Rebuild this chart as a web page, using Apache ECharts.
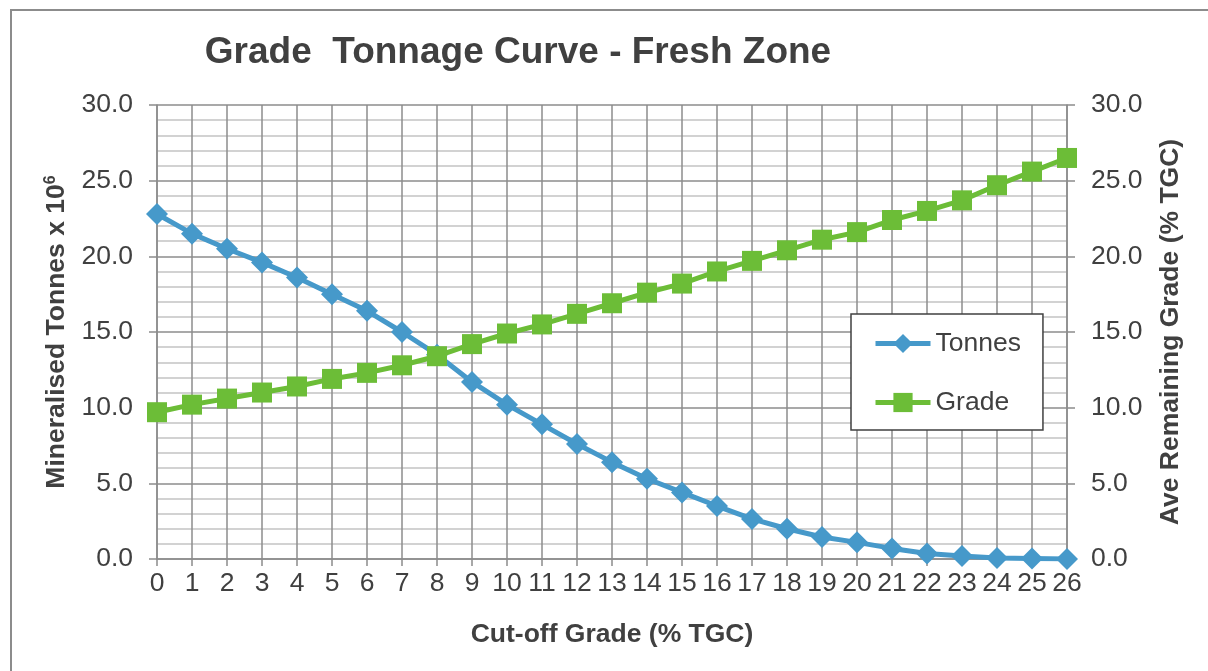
<!DOCTYPE html>
<html>
<head>
<meta charset="utf-8">
<title>Grade Tonnage Curve - Fresh Zone</title>
<script src="https://cdn.jsdelivr.net/npm/echarts@6/dist/echarts.min.js"></script>
<style>
  html, body { margin: 0; padding: 0; background: #fff; }
  #frame {
    position: absolute; left: 10px; top: 9px; width: 1300px; height: 800px;
    border-left: 2px solid #8c8c8c; border-top: 2px solid #8c8c8c;
  }
  #chart { position: absolute; left: 0; top: 0; width: 1208px; height: 671px; }
</style>
</head>
<body>
<div id="frame"></div>
<div id="chart"></div>
<script>
// cut-off grade (% TGC)
const cutoffs = ['0', '1', '2', '3', '4', '5', '6', '7', '8', '9', '10', '11', '12', '13',
  '14', '15', '16', '17', '18', '19', '20', '21', '22', '23', '24', '25', '26']

// mineralised tonnes x 10^6
const tonnes = [22.8, 21.5, 20.5, 19.6, 18.6, 17.5, 16.4, 15.0, 13.5, 11.7, 10.2, 8.9, 7.6,
  6.4, 5.3, 4.4, 3.5, 2.65, 2.0, 1.45, 1.1, 0.7, 0.37, 0.2, 0.06, 0.03, 0.0]

// average remaining grade (% TGC)
const grade = [9.7, 10.2, 10.6, 11.0, 11.4, 11.9, 12.3, 12.8, 13.4, 14.2, 14.9, 15.5, 16.2,
  16.9, 17.6, 18.2, 19.0, 19.7, 20.4, 21.1, 21.6, 22.4, 23.0, 23.7, 24.7, 25.6, 26.5]

const FONT = 'Liberation Sans, Arial, sans-serif'
const TEXT = '#404040'
const GRID_DARK = '#8c8c8c'
const GRID_LIGHT = '#c4c4c4'
const FS = 26.5

const chart = echarts.init(document.getElementById('chart'))

const yAxisBase = {
  type: 'value',
  min: 0,
  max: 30,
  interval: 5,
  nameLocation: 'middle',
  nameRotate: 90,
  nameTextStyle: { fontFamily: FONT, fontSize: FS, fontWeight: 'bold', color: TEXT },
  axisLine: { show: true, lineStyle: { color: GRID_DARK, width: 1.5 } },
  axisTick: { show: true, length: 8, lineStyle: { color: GRID_DARK, width: 1.5 } },
  axisLabel: {
    fontFamily: FONT, fontSize: FS, color: TEXT, margin: 24,
    formatter: (v) => v.toFixed(1)
  },
  minorTick: { show: false, splitNumber: 5 }
}

const option = {
  animation: false,
  title: {
    text: 'Grade  Tonnage Curve - Fresh Zone',
    left: 513,
    textAlign: 'center',
    top: 29,
    textStyle: { fontFamily: FONT, fontSize: 37, fontWeight: 'bold', color: TEXT }
  },
  legend: {
    orient: 'vertical',
    left: 851,
    top: 314,
    padding: [16, 22, 14, 22],
    itemGap: 32,
    itemWidth: 55,
    itemHeight: 24,
    borderColor: '#404040',
    borderWidth: 1.5,
    borderRadius: 0,
    backgroundColor: '#fff',
    lineStyle: { width: 5 },
    textStyle: { fontFamily: FONT, fontSize: FS, color: TEXT },
    data: ['Tonnes', 'Grade']
  },
  grid: { left: 157, right: 141, top: 105, bottom: 112 },
  xAxis: {
    type: 'category',
    data: cutoffs,
    boundaryGap: false,
    name: 'Cut-off Grade (% TGC)',
    nameLocation: 'middle',
    nameGap: 62,
    nameTextStyle: { fontFamily: FONT, fontSize: FS, fontWeight: 'bold', color: TEXT },
    axisLine: { lineStyle: { color: GRID_DARK, width: 1.5 } },
    axisTick: { show: true, interval: 0, length: 7, lineStyle: { color: GRID_DARK, width: 1.5 } },
    axisLabel: { interval: 0, fontFamily: FONT, fontSize: FS, color: TEXT, margin: 11 },
    splitLine: { show: true, interval: 0, lineStyle: { color: GRID_DARK, width: 1.5 } }
  },
  yAxis: [
    {
      ...yAxisBase,
      position: 'left',
      name: 'Mineralised Tonnes x 10{sup|6}',
      nameGap: 84,
      nameTextStyle: {
        ...yAxisBase.nameTextStyle,
        rich: {
          sup: { fontFamily: FONT, fontSize: 16, fontWeight: 'bold', color: TEXT, padding: [0, 0, 12, 0] }
        }
      },
      splitLine: { show: true, lineStyle: { color: GRID_DARK, width: 1.5 } },
      minorSplitLine: { show: true, lineStyle: { color: GRID_LIGHT, width: 1.5 } }
    },
    {
      ...yAxisBase,
      position: 'right',
      name: 'Ave Remaining Grade (% TGC)',
      nameGap: 90,
      splitLine: { show: false },
      minorSplitLine: { show: false }
    }
  ],
  series: [
    {
      name: 'Tonnes',
      type: 'line',
      yAxisIndex: 0,
      data: tonnes,
      symbol: 'diamond',
      symbolSize: 22,
      lineStyle: { color: '#4699ca', width: 5 },
      itemStyle: { color: '#4699ca' },
      z: 3
    },
    {
      name: 'Grade',
      type: 'line',
      yAxisIndex: 1,
      data: grade,
      symbol: 'rect',
      symbolSize: 20,
      lineStyle: { color: '#6cbd37', width: 5 },
      itemStyle: { color: '#6cbd37' },
      z: 4
    }
  ]
}

chart.setOption(option)
</script>
</body>
</html>
